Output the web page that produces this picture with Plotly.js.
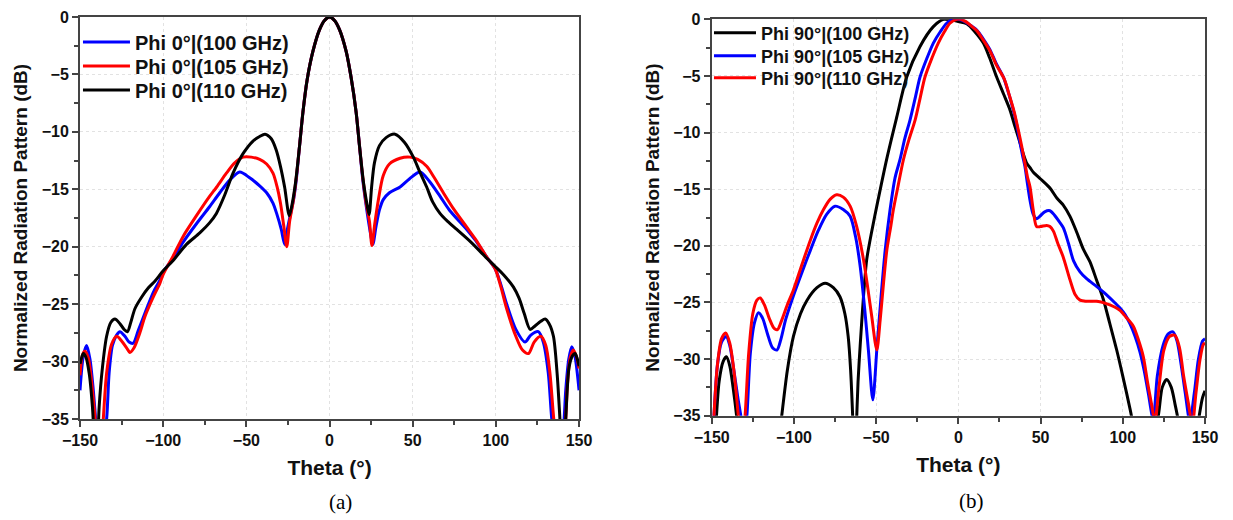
<!DOCTYPE html>
<html>
<head>
<meta charset="utf-8">
<script src="https://cdn.plot.ly/plotly-3.0.1.min.js"></script>
<style>
  html, body { margin: 0; padding: 0; background: #fff; }
  #chart { width: 1233px; height: 520px; }
</style>
</head>
<body>
<div id="chart"></div>
<script>
// ---------- (a) Phi 0° cuts ----------
const thetaA100 = [-150,-148,-146,-144,-142,-140,-137.5,-134,-132.5,-130.5,-128,-126,-123,-120.5,-118,-115,-111,-106,-102,-100,-94,-88,-80,-72,-66,-60,-54,-48,-42,-37.8,-34,-31.8,-29,-27,-25.5,-23.5,-21.5,-20,-18,-16,-13.5,-10,-6,-3,0,3,6,10,13,16,18,20,22,24,26,28,30,32.3,36,42.4,48,54.4,60,66.4,72,82.5,88,94.5,99.5,103,106.5,112,117.5,121,125.5,128.5,131.5,133.6,137,140.5,142,143.8,145.6,147.5,150];
const gainA100  = [-32.5,-29.5,-28.6,-29.8,-32.5,-36,-39,-35,-31,-28.6,-27.7,-27.4,-27.8,-28.3,-28.4,-27.3,-25.8,-24.0,-22.9,-22.2,-21.0,-19.6,-18.0,-16.5,-15.3,-14.2,-13.5,-14.0,-14.7,-15.3,-16.2,-17.1,-18.5,-19.8,-18.6,-17.2,-15.8,-14.2,-11.2,-8.3,-5.5,-3.0,-1.1,-0.3,0,-0.3,-1.1,-3.0,-5.3,-8.3,-11.2,-14.2,-16.4,-18.3,-19.8,-18.2,-16.8,-15.9,-15.3,-14.8,-14.1,-13.5,-14.3,-15.6,-16.8,-18.5,-19.5,-20.9,-21.9,-23.3,-25.0,-27.2,-28.3,-27.7,-27.4,-28.3,-31,-35,-39,-36,-32.5,-29.8,-28.7,-29.5,-32.5];

const thetaA105 = [-150,-148.5,-147,-145,-142.5,-140,-138,-136,-134,-131,-128,-125,-122,-120,-117.5,-114,-111,-106,-102,-100,-94,-88,-80,-72,-67.8,-62,-57,-52,-47,-42,-37.8,-34,-31.5,-29.5,-27.5,-25.7,-24,-22,-20,-18,-16,-13.5,-10,-6,-3,0,3,6,10,13,16,18,20,22,24,25.5,27.2,29.5,32.3,36,42.4,48.4,53,58.4,63,68.4,75,82.5,88,94.5,99.5,103,106.5,112,116,119.6,123,127,130,132.5,134.8,138,141.5,143,144.8,146.6,148.5,150];
const gainA105  = [-31.2,-29.4,-29.1,-29.7,-32.5,-36.5,-39,-35,-31,-28.5,-27.8,-28.2,-28.8,-29.2,-28.8,-27.5,-26.1,-24.4,-23.2,-22.4,-20.8,-19.1,-17.3,-15.6,-14.8,-13.6,-12.7,-12.2,-12.2,-12.4,-12.8,-13.6,-14.8,-16.2,-18.2,-20.0,-17.8,-16.2,-14.0,-11.2,-8.3,-5.5,-3.0,-1.1,-0.3,0,-0.3,-1.1,-3.0,-5.3,-8.3,-11.2,-14.0,-16.2,-17.8,-19.9,-18.0,-15.8,-13.8,-12.8,-12.3,-12.2,-12.4,-13.0,-14.0,-15.3,-16.8,-18.3,-19.4,-20.9,-21.9,-23.5,-25.4,-27.8,-29.0,-29.3,-28.3,-27.8,-28.6,-31,-35,-39,-36,-32,-29.6,-29.0,-29.6,-30.6];

const thetaA110 = [-150,-148,-146.5,-144.5,-142.5,-140.2,-138.5,-136.5,-134,-131.5,-129,-126,-123.5,-121.5,-119.5,-117,-113,-109,-105,-100,-94,-86,-78,-72,-68,-63,-58,-52,-46,-42,-38.8,-35,-32,-29.5,-27,-24.2,-22.5,-20.5,-18,-16,-13.5,-10,-6,-3,0,3,6,10,13,16,18,20.5,22.5,23.8,25.3,27,30,34,39.4,45,50.4,54,58.4,62,66.4,71,76.5,85,94.5,99.5,105,110.5,114,117,120.6,123.5,127,129.6,132,134.6,136.8,138.5,140.3,142,144,146,147.6,149,150];
const gainA110  = [-30.2,-29.3,-29.6,-31,-34,-40,-34,-30.5,-27.8,-26.6,-26.3,-26.7,-27.2,-27.4,-26.6,-25.4,-24.4,-23.6,-23.0,-22.1,-21.2,-19.8,-18.8,-17.9,-17.1,-15.5,-13.6,-11.9,-10.8,-10.4,-10.2,-10.6,-11.6,-13.0,-14.8,-17.3,-16.3,-14.5,-11.2,-8.3,-5.5,-3.0,-1.1,-0.3,0,-0.3,-1.1,-3.0,-5.3,-8.3,-11.2,-14.5,-16.3,-17.2,-14.8,-12.7,-11.2,-10.5,-10.2,-10.9,-12.2,-13.4,-14.8,-16.1,-17.1,-17.8,-18.5,-19.6,-21.0,-21.7,-22.5,-23.5,-24.5,-25.8,-27.2,-26.9,-26.5,-26.3,-26.7,-27.8,-31,-35,-40,-35,-30.5,-29.5,-29.3,-29.8,-30.4];

// ---------- (b) Phi 90° cuts ----------
const thetaB100 = [-150,-147.5,-145.5,-143,-141,-139,-137,-134.5,-132,-125,-115,-109,-107.4,-104,-100.3,-96,-92,-86,-81,-76,-72,-69,-67,-65.5,-64,-63,-62,-61,-59.7,-57.7,-55.7,-52.5,-49.6,-43.5,-37.4,-31.4,-23.3,-15.2,-9,-5,0,5.1,10,15.2,19,23.3,27.5,31.4,34.5,37.5,40,41.6,43.6,45.6,50,55.7,60,63.8,67.9,72,76,80,84,88.1,92,96.3,100,104.4,108,113,118,121.6,124,126.7,129.5,131.8,133.8,137,142,145.5,146.5,148.5,150];
const gainB100  = [-42,-36,-32,-30.2,-29.8,-30.6,-32.5,-35.5,-40,-48,-45,-37,-35,-31,-28,-26,-24.8,-23.7,-23.3,-23.7,-24.5,-26,-28,-31,-36,-40,-36,-32,-28.8,-24.5,-21.2,-18.6,-16.5,-12.3,-8.6,-5.1,-2.4,-0.65,0,-0.05,-0.2,-0.4,-1.1,-2.1,-3.4,-5.1,-6.6,-8.0,-9.5,-10.9,-12.1,-12.7,-13.1,-13.5,-14.1,-14.9,-15.8,-16.4,-17.4,-18.8,-20.3,-21.4,-23.0,-24.7,-26.8,-29.2,-31.5,-34.4,-37,-40,-37,-35,-32.5,-31.8,-32.5,-34,-35.5,-40,-41,-36,-35,-33.4,-32.8];

const thetaB105 = [-150,-148.6,-146.5,-144,-141.2,-139,-136.5,-134,-131.7,-130.2,-128.6,-126.5,-124,-121.5,-119,-116,-113,-110.3,-108,-105,-100.3,-95,-90,-85,-80,-75,-70,-65.8,-62.5,-59.7,-57,-54.7,-52,-49.5,-47,-44.5,-41.5,-38.5,-35.5,-32.5,-29.4,-26,-23.3,-19,-15.2,-11,-7.1,-3,0,4,8,11.2,15,19.3,23,27.4,30.5,33.4,35.5,37.5,39,40.5,42,43.6,45.5,47.5,49.5,52.5,55.7,58.5,61,63.8,67,70,74,78,84.2,90,95,98.3,101.5,104.4,107.5,110.5,113,115.5,118.5,121,124.5,127.5,130.5,133,135.5,138,140.8,143.5,146,148.5,150];
const gainB105  = [-40,-35,-30.5,-28.5,-28.0,-28.8,-31,-33.5,-35.5,-37,-35,-29.5,-26.8,-25.9,-26.4,-27.8,-29.0,-29.2,-28.3,-26.5,-24.4,-22.3,-20.4,-18.6,-17.2,-16.5,-16.8,-17.4,-19.2,-21.8,-25.5,-29.2,-33.6,-29,-24.5,-20.4,-16.8,-14,-12.4,-10.5,-8.9,-6.8,-5.1,-3.4,-2.1,-1.1,-0.35,0,0,-0.2,-0.6,-0.95,-1.7,-2.7,-3.9,-5.1,-6.5,-8.0,-9.3,-10.9,-12,-13.0,-14.5,-16.0,-17.2,-17.6,-17.4,-17.0,-16.9,-17.3,-17.8,-18.4,-19.8,-21.3,-22.3,-22.9,-23.6,-24.3,-25.0,-25.5,-26.1,-26.9,-28.0,-29.4,-31,-33,-35.3,-31.5,-28.8,-27.8,-27.6,-28.4,-30.5,-33,-35.5,-33,-30,-28.4,-28.2];

const thetaB110 = [-150,-148.6,-146.5,-144,-141.5,-139,-136.5,-133.8,-131.8,-129.7,-127.5,-125,-122.5,-120.5,-118,-115,-112,-110,-107.5,-104,-100.3,-95,-90,-86,-82,-78,-74,-70,-65.8,-62,-57.7,-55,-52.7,-49.6,-47.5,-45.5,-43.5,-41,-39.5,-36.5,-33.4,-30,-26.3,-23.3,-20.3,-16,-12.2,-8.5,-5.1,-1,1.5,5,8,11.2,15,19.3,23,28,31,34,36.5,38.5,40.5,42,43.6,45.5,47.6,50,53.7,55.7,57.8,60.5,63.8,67.9,71,74,78,84.2,90,95,98.3,102,106.4,109.5,112.5,115,117.5,119.6,122,125,128.5,131.7,134.5,137,140,142.3,144.5,147,149,150];
const gainB110  = [-40,-35,-30.5,-28.2,-27.7,-28.6,-31,-35,-38,-35,-29.5,-26.0,-24.8,-24.6,-25.2,-26.4,-27.3,-27.4,-26.6,-25.2,-23.9,-21.6,-19.5,-18.0,-16.8,-15.9,-15.5,-15.7,-16.5,-18.2,-21.2,-23.8,-26.2,-29.2,-26.5,-23.3,-20.4,-18.2,-16.8,-14.6,-12.4,-10.6,-8.9,-7.0,-5.1,-3.4,-2.1,-1.1,-0.35,0,0,-0.25,-0.6,-1.0,-1.8,-2.8,-4.0,-5.3,-6.7,-8.2,-9.8,-11.2,-12.7,-13.9,-14.8,-16.8,-18.3,-18.3,-18.2,-18.3,-18.7,-19.8,-21.0,-23.0,-24.3,-24.8,-24.9,-24.9,-25.1,-25.4,-25.7,-26.3,-27.1,-28.3,-29.8,-32,-34,-35.5,-32.5,-29.2,-28.0,-27.9,-29,-31.5,-34,-35.8,-33,-30,-28.7,-28.6];

const namesA = ['Phi 0°|(100 GHz)', 'Phi 0°|(105 GHz)', 'Phi 0°|(110 GHz)'];
const namesB = ['Phi 90°|(100 GHz)', 'Phi 90°|(105 GHz)', 'Phi 90°|(110 GHz)'];
const xTitle = 'Theta (°)';
const yTitle = 'Normalized Radiation Pattern (dB)';
const captions = ['(a)', '(b)'];

const BLUE = '#0000ff', RED = '#ff0000', BLACK = '#000000';
const FONT = 'Liberation Sans, Arial, Helvetica, sans-serif';

function line(x, y, name, color, xa, ya, leg) {
  return {
    x: x, y: y, name: name, type: 'scatter', mode: 'lines',
    xaxis: xa, yaxis: ya, legend: leg,
    line: {color: color, width: 3, shape: 'spline', smoothing: 0.8},
    hoverinfo: 'x+y+name'
  };
}

const traces = [
  line(thetaA100, gainA100, namesA[0], BLUE,  'x',  'y',  'legend'),
  line(thetaA105, gainA105, namesA[1], RED,   'x',  'y',  'legend2'),
  line(thetaA110, gainA110, namesA[2], BLACK, 'x',  'y',  'legend3'),
  line(thetaB100, gainB100, namesB[0], BLACK, 'x2', 'y2', 'legend4'),
  line(thetaB105, gainB105, namesB[1], BLUE,  'x2', 'y2', 'legend5'),
  line(thetaB110, gainB110, namesB[2], RED,   'x2', 'y2', 'legend6')
];

const axisBase = {
  showline: true, linecolor: '#444', linewidth: 2, mirror: true,
  ticks: 'outside', ticklen: 6, tickwidth: 1.5, tickcolor: '#444',
  showgrid: true, gridcolor: '#e2e2e2', griddash: 'dot', gridwidth: 1,
  zeroline: false, fixedrange: true,
  tickfont: {family: FONT, size: 16, color: '#111', weight: 'bold'}
};

function xAxis(domain, anchor) {
  return Object.assign({}, axisBase, {
    domain: domain, anchor: anchor, range: [-150, 150],
    tickmode: 'linear', tick0: -150, dtick: 50,
    minor: {ticks: 'outside', ticklen: 4, tickcolor: '#444', tickwidth: 1.5, dtick: 25, tick0: -150, showgrid: false},
    title: {text: xTitle, font: {family: FONT, size: 21, color: '#111', weight: 'bold'}, standoff: 12}
  });
}
function yAxis(domain, anchor) {
  return Object.assign({}, axisBase, {
    domain: domain, anchor: anchor, range: [-35, 0],
    tickmode: 'linear', tick0: 0, dtick: 5,
    minor: {ticks: 'outside', ticklen: 4, tickcolor: '#444', tickwidth: 1.5, dtick: 2.5, tick0: 0, showgrid: false},
    title: {text: yTitle, font: {family: FONT, size: 19, color: '#111', weight: 'bold'}, standoff: 9}
  });
}

function leg(x, y, size, w) {
  return {
    x: x, y: y, xanchor: 'left', yanchor: 'middle',
    bgcolor: 'rgba(0,0,0,0)', borderwidth: 0, itemwidth: w,
    font: {family: FONT, size: size, color: '#111', weight: 'bold'}
  };
}

const layout = {
  width: 1233, height: 520,
  margin: {l: 80, r: 28, t: 17, b: 101},
  paper_bgcolor: '#ffffff', plot_bgcolor: '#ffffff',
  font: {family: FONT, color: '#111'},
  showlegend: true,
  xaxis: xAxis([0, 0.4436], 'y'),
  yaxis: yAxis([0, 1], 'x'),
  xaxis2: xAxis([0.5615, 1], 'y2'),
  yaxis2: yAxis([0.0082, 0.9943], 'x2'),
  legend:  leg(-0.0018, 0.9378, 20, 47),
  legend2: leg(-0.0018, 0.8781, 20, 47),
  legend3: leg(-0.0018, 0.8184, 20, 47),
  legend4: leg(0.5591, 0.9602, 18, 42),
  legend5: leg(0.5591, 0.9030, 18, 42),
  legend6: leg(0.5591, 0.8483, 18, 42),
  annotations: [
    {text: captions[0], xref: 'paper', yref: 'paper', x: 0.2316, y: -0.2065, xanchor: 'center', yanchor: 'middle',
     showarrow: false, font: {family: 'Liberation Serif, Times New Roman, serif', size: 21, color: '#000'}},
    {text: captions[1], xref: 'paper', yref: 'paper', x: 0.7920, y: -0.2040, xanchor: 'center', yanchor: 'middle',
     showarrow: false, font: {family: 'Liberation Serif, Times New Roman, serif', size: 21, color: '#000'}}
  ]
};

Plotly.newPlot('chart', traces, layout, {displayModeBar: false, responsive: false});
</script>
</body>
</html>
